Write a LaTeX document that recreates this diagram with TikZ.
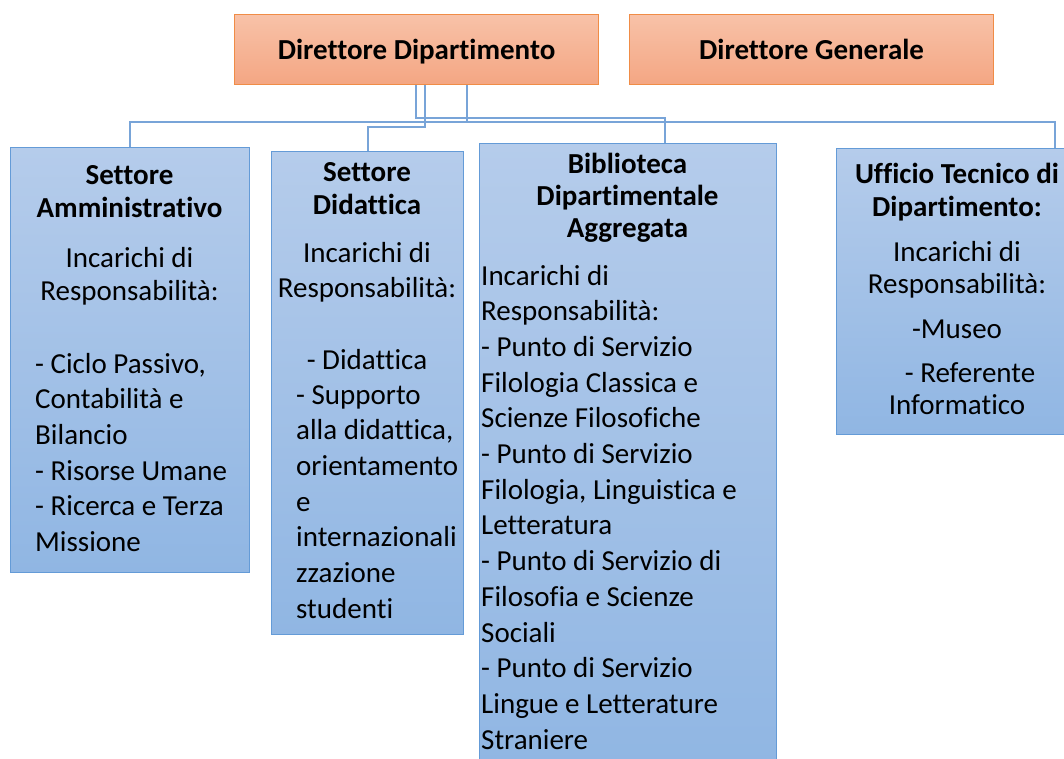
\documentclass[tikz,border=0pt]{standalone}
\usepackage{fontspec}
\setmainfont{Carlito}[Ligatures=NoCommon]
\usepackage{tikz}
\definecolor{dirtop}{RGB}{248,194,168}
\definecolor{dirbot}{RGB}{244,166,131}
\definecolor{dirline}{RGB}{240,140,70}
\definecolor{settop}{RGB}{181,204,235}
\definecolor{setbot}{RGB}{144,182,227}
\definecolor{setline}{RGB}{100,155,215}
\definecolor{linkcol}{RGB}{120,164,216}
\tikzstyle{dirbox} = [draw=dirline, line width=1.2pt, top color=dirtop, bottom color=dirbot,
    rectangle, anchor=north west, minimum width=364pt, minimum height=70pt, inner sep=0pt,
    text depth=0pt, font=\fontsize{29}{33}\selectfont\bfseries]
\tikzstyle{setbox} = [draw=setline, line width=1.2pt, top color=settop, bottom color=setbot,
    rectangle, anchor=north west, inner sep=0pt]
\tikzstyle{settitle} = [anchor=base, inner sep=0pt, align=flush center,
    font=\fontsize{29}{33}\selectfont\bfseries]
\tikzstyle{setbody} = [anchor=base west, inner sep=0pt, align=flush left,
    font=\fontsize{29}{35.7}\selectfont]
\tikzstyle{link} = [draw=linkcol, line width=2pt]

\begin{document}
\begin{tikzpicture}[x=1pt, y=-1pt]
                \path [use as bounding box, clip] (0,0) rectangle (1064,758);
                \node [dirbox] (dd) at (234,14) {Direttore Dipartimento};
                \node [dirbox] (dg) at (629,14) {Direttore Generale};

                \node [setbox, minimum width=239pt, minimum height=425pt] (amm) at (10,147) {};
                \node [setbox, minimum width=192pt, minimum height=483pt] (did) at (271,151) {};
                \node [setbox, minimum width=297pt, minimum height=625pt] (bib) at (479,143) {};
                \node [setbox, minimum width=242pt, minimum height=286pt] (uff) at (836,148) {};

                \draw [link] ([xshift=182pt]dd.south west) -- ++(0,33) -| ([xshift=186pt]bib.north west);
                \draw [link] ([xshift=191pt]dd.south west) -- ++(0,42) -| (did.north);
                \draw [link] ([xshift=233pt]dd.south west) -- ++(0,37) coordinate (bus);
                \draw [link] (amm.north) |- (bus) -| ([xshift=219pt]uff.north west);

                \node [settitle, text width=235pt] (amm-title) at (129.5,184) {%
                    Settore\\Amministrativo\\[17pt]\mdseries Incarichi di\\Responsabilità:};
                \node [setbody, text width=210pt] (amm-list) at (35,373) {%
                    - Ciclo Passivo,\\Contabilità e\\Bilancio\\- Risorse Umane\\- Ricerca e Terza\\Missione};

                \node [settitle, text width=190pt] (did-title) at (367,181) {%
                    Settore\\Didattica\\[15pt]\mdseries Incarichi di\\[2pt]Responsabilità:};
                \node [setbody, anchor=base] (did-first) at (367,369) {- Didattica};
                \node [setbody, text width=165pt] (did-list) at (296,404) {%
                    - Supporto\\alla didattica,\\orientamento\\e\\internazionali\\zzazione\\studenti};

                \node [settitle, text width=290pt] (bib-title) at (627.5,173) {%
                    Biblioteca\\[-1pt]Dipartimentale\\[-1pt]Aggregata};
                \node [setbody, text width=290pt] (bib-list) at (481,285) {%
                    Incarichi di\\Responsabilità:\\- Punto di Servizio\\Filologia Classica e\\Scienze Filosofiche\\%
                    - Punto di Servizio\\Filologia, Linguistica e\\Letteratura\\- Punto di Servizio di\\%
                    Filosofia e Scienze\\Sociali\\- Punto di Servizio\\Lingue e Letterature\\Straniere};

                \node [settitle, text width=236pt] (uff-title) at (957,183) {%
                    Ufficio Tecnico di\\Dipartimento:\\[12pt]\mdseries Incarichi di\\[-1pt]Responsabilità:};
                \node [setbody, anchor=base] (uff-museo) at (957,338) {-Museo};
                \node [setbody, anchor=base] (uff-ref) at (970,382) {- Referente};
                \node [setbody, anchor=base] (uff-inf) at (957,414) {Informatico};
            \end{tikzpicture}
\end{document}
